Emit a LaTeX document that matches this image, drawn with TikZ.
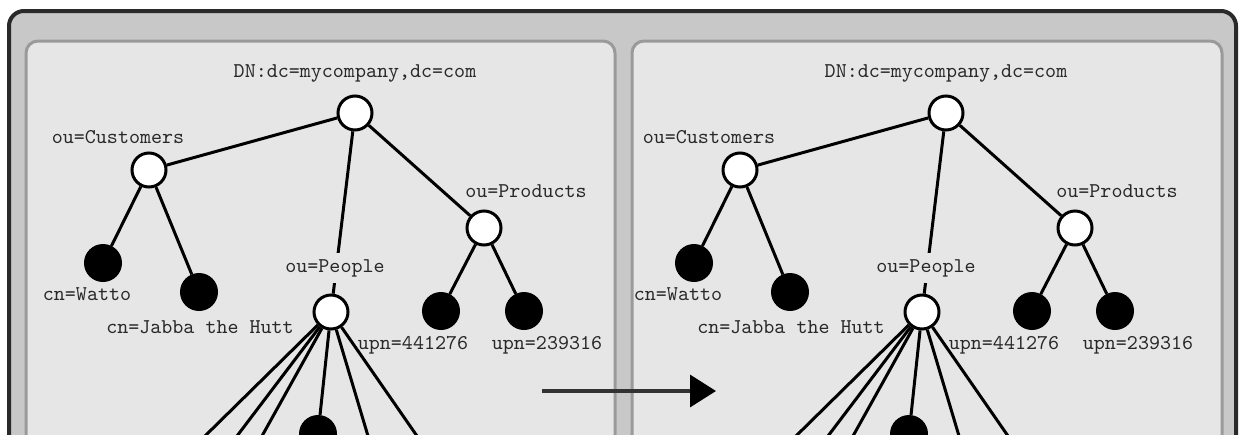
\documentclass[tikz,border=0pt]{standalone}
\usepackage{fontspec}
\newfontfamily\labelfont{Latin Modern Mono}
\usetikzlibrary{arrows.meta}

\definecolor{framefill}{HTML}{C8C8C8}
\definecolor{frameline}{HTML}{2A2A2A}
\definecolor{panelfill}{HTML}{E6E6E6}
\definecolor{panelline}{HTML}{9A9A9A}
\definecolor{labelgray}{HTML}{282828}
\definecolor{arrowgray}{HTML}{333333}

\tikzset{
  container/.style={draw=frameline, fill=framefill, line width=2pt, rounded corners=7.5pt},
  panel/.style={draw=panelline, fill=panelfill, line width=1.5pt, rounded corners=6pt},
  opennode/.style={circle, draw=black, line width=1.5pt, fill=white, minimum size=17pt, inner sep=0pt},
  leafnode/.style={circle, draw=black, fill=black, line width=1pt, minimum size=18pt, inner sep=0pt},
  link/.style={draw=black, line width=1.5pt},
  dnlabel/.style={font=\labelfont\fontsize{10.5}{12}\selectfont, text=labelgray, inner sep=1pt},
  flow/.style={draw=arrowgray, line width=1.75pt, -{Triangle[length=13pt,width=16pt,color=black]}},
}

% One directory tree; #1 prefixes the node names
\newcommand\ldaptree[1]{%
  % entries
  \node[opennode] (#1root)   at (355,113) {};
  \node[opennode] (#1cust)   at (149,170) {};
  \node[opennode] (#1prod)   at (484,228) {};
  \node[leafnode] (#1watto)  at (103,263) {};
  \node[leafnode] (#1jabba)  at (199,292) {};
  \node[opennode] (#1people) at (331,312) {};
  \node[leafnode] (#1upnA)   at (441,311) {};
  \node[leafnode] (#1upnB)   at (524,311) {};
  \node[leafnode] (#1person) at (318,434) {};
  % branches running on below
  \coordinate (#1endA) at (205,436);
  \coordinate (#1endB) at (237,436);
  \coordinate (#1endC) at (262,436);
  \coordinate (#1endD) at (368,436);
  \coordinate (#1endE) at (417,436);
  % links
  \draw[link] (#1root) -- (#1cust);
  \draw[link] (#1root) -- (#1prod);
  \draw[link] (#1root) -- (#1people);
  \draw[link] (#1cust) -- (#1watto);
  \draw[link] (#1cust) -- (#1jabba);
  \draw[link] (#1prod) -- (#1upnA);
  \draw[link] (#1prod) -- (#1upnB);
  \draw[link] (#1people) -- (#1endA);
  \draw[link] (#1people) -- (#1endB);
  \draw[link] (#1people) -- (#1endC);
  \draw[link] (#1people) -- (#1person);
  \draw[link] (#1people) -- (#1endD);
  \draw[link] (#1people) -- (#1endE);
  % names
  \node[dnlabel] (#1dnlbl)     at (355,73)  {DN:dc=mycompany,dc=com};
  \node[dnlabel] (#1custlbl)   at (118,137) {ou=Customers};
  \node[dnlabel] (#1prodlbl)   at (526,191) {ou=Products};
  \node[dnlabel] (#1wattolbl)  at (87,294)  {cn=Watto};
  \node[dnlabel] (#1jabbalbl)  at (200,327) {cn=Jabba the Hutt};
  \node[dnlabel, fill=panelfill, inner ysep=3pt] (#1peoplelbl) at (335,268) {ou=People};
  \node[dnlabel] (#1upnAlbl)   at (413,345) {upn=441276};
  \node[dnlabel] (#1upnBlbl)   at (547,345) {upn=239316};
}

\begin{document}
\begin{tikzpicture}[x=0.5pt, y=-0.5pt]
  \useasboundingbox (0,0) rectangle (1241,434);
  \clip (0,0) rectangle (1241,434);
  \fill[white] (0,0) rectangle (1241,434);

  % outer frame and the two panels
  \path[container] (9,11) rectangle (1236,480);
  \path[panel] (26,41) rectangle (615,480);
  \path[panel] (632,41) rectangle (1222,480);

  % before / after trees
  \begin{scope}
    \ldaptree{L}
  \end{scope}
  \begin{scope}[shift={(591,0)}]
    \ldaptree{R}
  \end{scope}

  % transition arrow
  \coordinate (flowtail) at (542,391);
  \coordinate (flowtip) at (716,391);
  \draw[flow] (flowtail) -- (flowtip);
\end{tikzpicture}
\end{document}
